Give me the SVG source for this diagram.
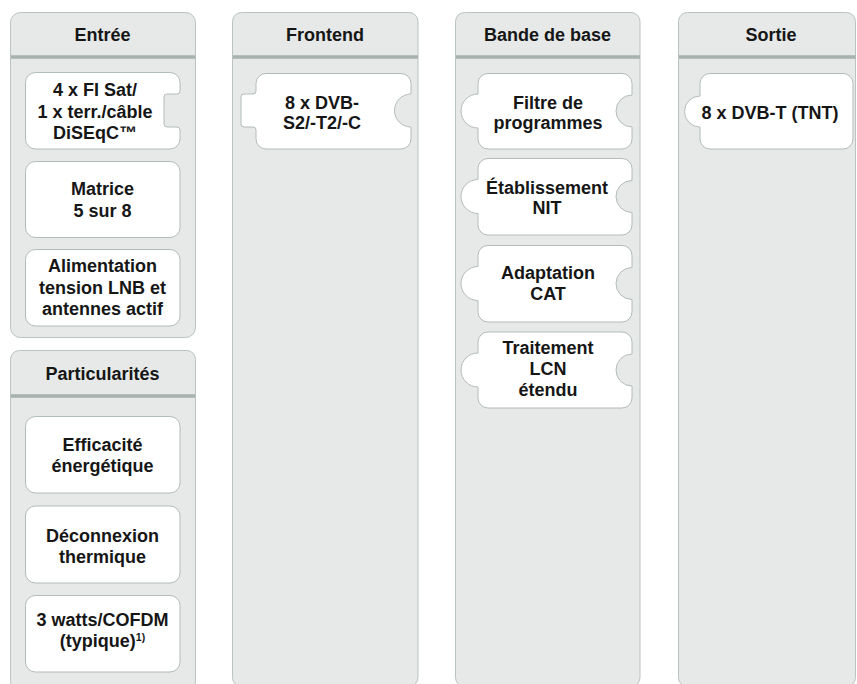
<svg xmlns="http://www.w3.org/2000/svg" width="857" height="684" viewBox="0 0 857 684">
<style>
.panel{fill:#e6e9e8;stroke:#bac3c1;stroke-width:1}
.div{stroke:#a7b1ae;stroke-width:3.5}
.box{fill:#ffffff;stroke:#b3bcba;stroke-width:1}
text{font-family:"Liberation Sans",Arial,Helvetica,sans-serif;font-weight:bold;font-size:18px;fill:#161616;text-anchor:middle}
.sup{font-size:10.5px}
</style>
<rect width="857" height="684" fill="#ffffff"/>
<g id="col-entree">
<rect class="panel" x="10.5" y="12.5" width="185" height="325" rx="10"/>
<line class="div" x1="11" y1="57" x2="195" y2="57"/>
<text x="102.5" y="41">Entrée</text>
</g>
<g id="col-particularites">
<rect class="panel" x="10.5" y="350.5" width="185" height="340" rx="9"/>
<line class="div" x1="11" y1="396" x2="195" y2="396"/>
<text x="102.5" y="380">Particularités</text>
</g>
<g id="col-frontend">
<rect class="panel" x="232.5" y="12.5" width="185.5" height="674" rx="9"/>
<line class="div" x1="233" y1="57" x2="418" y2="57"/>
<text x="325" y="41">Frontend</text>
</g>
<g id="col-bande">
<rect class="panel" x="455.5" y="12.5" width="184.5" height="674" rx="9"/>
<line class="div" x1="456" y1="57" x2="640" y2="57"/>
<text x="547.5" y="41">Bande de base</text>
</g>
<g id="col-sortie">
<rect class="panel" x="678.5" y="12.5" width="177" height="674" rx="9"/>
<line class="div" x1="679" y1="57" x2="855.5" y2="57"/>
<text x="771" y="41">Sortie</text>
</g>
<g id="connectors"></g>
<g id="n-fisat">
<path class="box" d="M35.5,72.5 H170 A10,10 0 0 1 180,82.5 V91 A3,3 0 0 1 177,94 H167 A3,3 0 0 0 164,97 V124 A3,3 0 0 0 167,127 H177 A3,3 0 0 1 180,130 V139 A10,10 0 0 1 170,149 H35.5 A10,10 0 0 1 25.5,139 V82.5 A10,10 0 0 1 35.5,72.5 Z"/>
<text x="95" y="96">4 x FI Sat/</text>
<text x="95" y="117.5">1 x terr./câble</text>
<text x="95" y="138.5">DiSEqC™</text>
</g>
<g id="n-matrice">
<rect class="box" x="25.5" y="161.5" width="154.5" height="76" rx="10"/>
<text x="102.5" y="195">Matrice</text>
<text x="102.5" y="216.5">5 sur 8</text>
</g>
<g id="n-alim">
<rect class="box" x="25.5" y="249.5" width="154.5" height="76.5" rx="10"/>
<text x="102.5" y="272">Alimentation</text>
<text x="102.5" y="294">tension LNB et</text>
<text x="102.5" y="315">antennes actif</text>
</g>
<g id="n-efficacite">
<rect class="box" x="25.5" y="416.5" width="154.5" height="76.5" rx="10"/>
<text x="102.5" y="450.5">Efficacité</text>
<text x="102.5" y="471.5">énergétique</text>
</g>
<g id="n-deconnexion">
<rect class="box" x="25.5" y="506" width="154.5" height="77" rx="10"/>
<text x="102.5" y="541.5">Déconnexion</text>
<text x="102.5" y="563">thermique</text>
</g>
<g id="n-watts">
<rect class="box" x="25.5" y="595.5" width="154.5" height="76.5" rx="10"/>
<text x="102.5" y="626">3 watts/COFDM</text>
<text x="102.5" y="647">(typique)<tspan class="sup" dy="-6">1)</tspan></text>
</g>
<g id="n-frontend">
<path class="box" d="M266,73.5 H401 A10,10 0 0 1 411,83.5 V94 A16.5,16.5 0 0 0 411,127 V139 A10,10 0 0 1 401,149 H266 A10,10 0 0 1 256,139 V130 A3,3 0 0 0 253,127 H244 A3,3 0 0 1 241,124 V97 A3,3 0 0 1 244,94 H253 A3,3 0 0 0 256,91 V83.5 A10,10 0 0 1 266,73.5 Z"/>
<text x="322" y="108.5">8 x DVB-</text>
<text x="322" y="129">S2/-T2/-C</text>
</g>
<g id="n-filtre">
<path class="box" d="M488,73.5 H622 A10,10 0 0 1 632,83.5 V95 A16,16 0 0 0 632,127 V139 A10,10 0 0 1 622,149 H488 A10,10 0 0 1 478,139 V128 A17,17 0 0 1 478,94 V83.5 A10,10 0 0 1 488,73.5 Z"/>
<text x="548" y="108.5">Filtre de</text>
<text x="548" y="129">programmes</text>
</g>
<g id="n-nit">
<path class="box" d="M488,158.5 H622 A10,10 0 0 1 632,168.5 V180.5 A16,16 0 0 0 632,212.5 V225 A10,10 0 0 1 622,235 H488 A10,10 0 0 1 478,225 V213.5 A17,17 0 0 1 478,179.5 V168.5 A10,10 0 0 1 488,158.5 Z"/>
<text x="547" y="193.5">Établissement</text>
<text x="547" y="214">NIT</text>
</g>
<g id="n-cat">
<path class="box" d="M488,245.5 H622 A10,10 0 0 1 632,255.5 V267.5 A16,16 0 0 0 632,299.5 V312 A10,10 0 0 1 622,322 H488 A10,10 0 0 1 478,312 V300.5 A17,17 0 0 1 478,266.5 V255.5 A10,10 0 0 1 488,245.5 Z"/>
<text x="548" y="279">Adaptation</text>
<text x="548" y="300">CAT</text>
</g>
<g id="n-lcn">
<path class="box" d="M488,332 H622 A10,10 0 0 1 632,342 V354 A16,16 0 0 0 632,386 V398 A10,10 0 0 1 622,408 H488 A10,10 0 0 1 478,398 V387 A17,17 0 0 1 478,353 V342 A10,10 0 0 1 488,332 Z"/>
<text x="548" y="353.5">Traitement</text>
<text x="548" y="375">LCN</text>
<text x="548" y="396">étendu</text>
</g>
<g id="n-sortie">
<path class="box" d="M710,73.5 H843 A10,10 0 0 1 853,83.5 V139 A10,10 0 0 1 843,149 H710 A10,10 0 0 1 700,139 V127 A15.5,15.5 0 0 1 700,96 V83.5 A10,10 0 0 1 710,73.5 Z"/>
<text x="770" y="119">8 x DVB-T (TNT)</text>
</g>
</svg>
